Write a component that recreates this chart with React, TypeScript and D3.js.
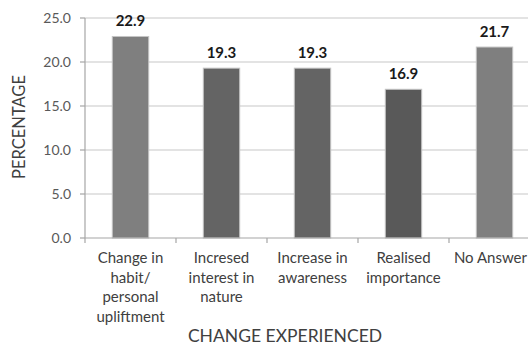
import React from "react";
import * as d3 from "d3";

// Share of respondents reporting each kind of change
const categories = [
  "Change in habit/ personal upliftment",
  "Incresed interest in nature",
  "Increase in awareness",
  "Realised importance",
  "No Answer",
];
const categoryLines = [
  ["Change in", "habit/", "personal", "upliftment"],
  ["Incresed", "interest in", "nature"],
  ["Increase in", "awareness"],
  ["Realised", "importance"],
  ["No Answer"],
];
const values = [22.9, 19.3, 19.3, 16.9, 21.7];
const barColors = ["#7f7f7f", "#646464", "#646464", "#595959", "#7f7f7f"];
const yTicks = [0, 5, 10, 15, 20, 25];

const W = 528;
const H = 345;
const FONT = "Lato, 'Open Sans', sans-serif";

export default function App() {
  const left = 85;
  const step = 91;
  const x = d3
    .scaleBand<string>()
    .domain(categories)
    .range([left, left + step * categories.length])
    .paddingInner(0.6)
    .paddingOuter(0.3);
  const y = d3.scaleLinear().domain([0, 25]).range([238, 18]);
  const fmt = d3.format(".1f");
  const boundaries = d3.range(categories.length + 1).map((i) => left + i * x.step());
  const last = categories.length - 1;

  return (
    <div style={{ position: "fixed", left: 0, top: 0, width: W, height: H, background: "#fff" }}>
      <svg width={W} height={H} style={{ display: "block" }} fontFamily={FONT}>
        <rect width={W} height={H} fill="#fff" />
        {/* horizontal gridlines */}
        {yTicks.slice(1).map((t) => (
          <line key={t} x1={left} x2={W} y1={y(t)} y2={y(t)} stroke="#c8c8c8" strokeWidth={1.2} />
        ))}
        {/* y axis */}
        <line x1={left} x2={left} y1={y(25)} y2={y(0)} stroke="#a6a6a6" strokeWidth={1.2} />
        {yTicks.map((t) => (
          <g key={t}>
            <line x1={left - 5} x2={left} y1={y(t)} y2={y(t)} stroke="#a6a6a6" strokeWidth={1.2} />
            <text x={71} y={y(t)} dy="0.35em" textAnchor="end" fontSize={14} fill="#595959">
              {fmt(t)}
            </text>
          </g>
        ))}
        {/* bars */}
        {categories.map((c, i) => (
          <rect
            key={c}
            x={x(c)}
            y={y(values[i])}
            width={x.bandwidth()}
            height={y(0) - y(values[i])}
            fill={barColors[i]}
            stroke="#c4c4c4"
            strokeWidth={1}
          />
        ))}
        {/* value labels */}
        {categories.map((c, i) => (
          <text
            key={c}
            x={(x(c) as number) + x.bandwidth() / 2}
            y={y(values[i]) - 10}
            textAnchor="middle"
            fontSize={15}
            fontWeight="bold"
            fill="#1a1a1a"
          >
            {fmt(values[i])}
          </text>
        ))}
        {/* x axis */}
        <line x1={left} x2={W} y1={y(0)} y2={y(0)} stroke="#a6a6a6" strokeWidth={1.2} />
        {boundaries.map((b) => (
          <line key={b} x1={b} x2={b} y1={y(0)} y2={y(0) + 5} stroke="#a6a6a6" strokeWidth={1.2} />
        ))}
        {categories.map((c, i) => {
          // the last label is pinned to the right edge so it stays inside the frame
          const cx = i === last ? W - 1 : (x(c) as number) + x.bandwidth() / 2;
          return (
            <text
              key={c}
              x={cx}
              y={263}
              textAnchor={i === last ? "end" : "middle"}
              fontSize={15}
              fill="#404040"
            >
              {categoryLines[i].map((ln, j) => (
                <tspan key={j} x={cx} dy={j === 0 ? 0 : 19.7}>
                  {ln}
                </tspan>
              ))}
            </text>
          );
        })}
        {/* axis titles */}
        <text
          transform={`translate(25,127) rotate(-90)`}
          textAnchor="middle"
          fontSize={16.5}
          fill="#404040"
        >
          PERCENTAGE
        </text>
        <text x={285} y={342} textAnchor="middle" fontSize={17.5} fill="#404040">
          CHANGE EXPERIENCED
        </text>
      </svg>
    </div>
  );
}
